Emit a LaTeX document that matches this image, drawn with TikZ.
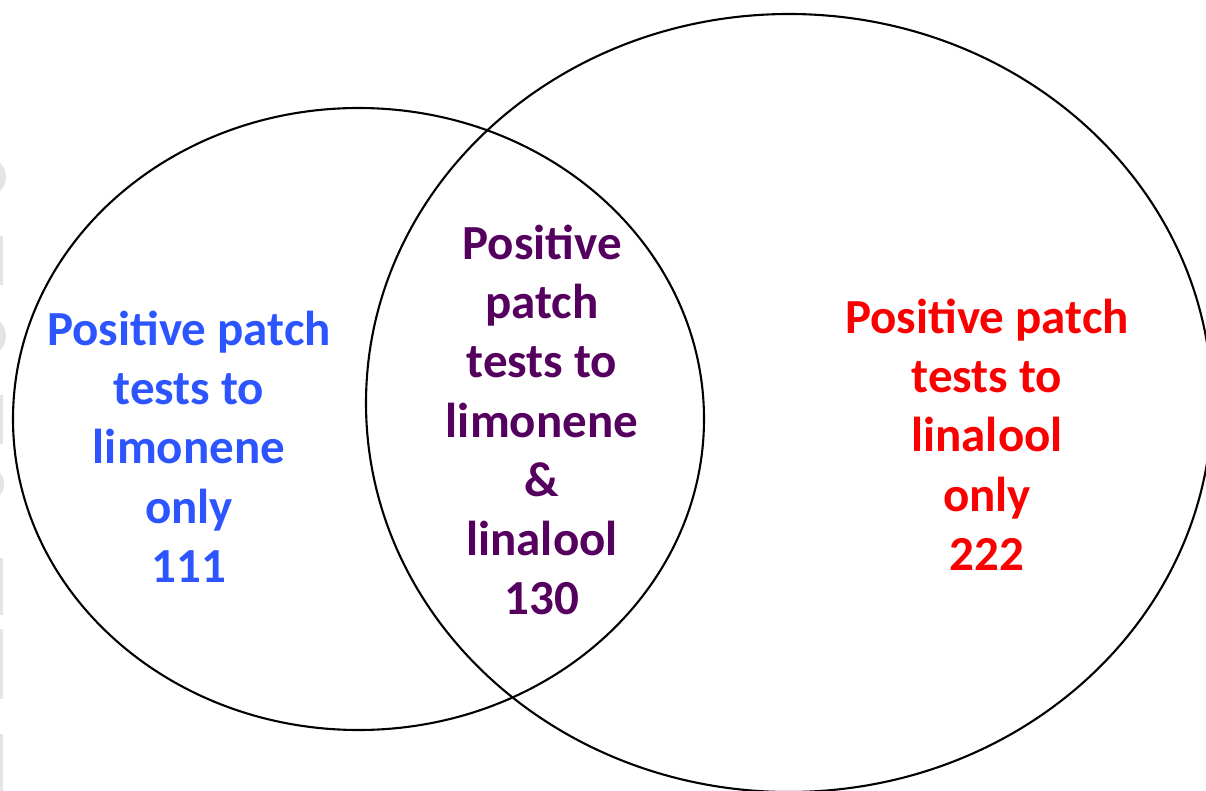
\documentclass[tikz,border=0pt]{standalone}
\usepackage{fontspec}
\setmainfont{Carlito}
\definecolor{limblue}{RGB}{45,85,255}
\definecolor{bothpurple}{RGB}{85,0,95}
\definecolor{linred}{RGB}{250,0,0}
\definecolor{ghost}{RGB}{228,228,228}
\begin{document}
\begin{tikzpicture}[x=1pt,y=-1pt,
  setline/.style={draw=black,line width=2.1pt},
  vlabel/.style={align=center,font=\bfseries\fontsize{49}{59.3}\selectfont,inner sep=0pt},
  ghostmark/.style={fill=ghost,draw=none}]
\useasboundingbox (0,0) rectangle (1206,791);
\fill[white] (0,0) rectangle (1206,791);
% faint remnants on the left edge
\begin{scope}
\clip (0,0) rectangle (1206,791);
\fill[ghostmark] (-14,177) circle (20);
\fill[ghostmark] (0,236) rectangle (3,285);
\fill[ghostmark] (-14,336) circle (20);
\fill[ghostmark] (0,395) rectangle (3,444);
\fill[ghostmark] (-14,484) circle (18);
\fill[ghostmark] (0,558) rectangle (3,615);
\fill[ghostmark] (0,629) rectangle (3,699);
\fill[ghostmark] (0,734) rectangle (3,791);
% sets
\draw[setline] (358.5,419) ellipse [x radius=345.5, y radius=311];
\draw[setline] (789,403) ellipse [x radius=423, y radius=389];
\end{scope}
\node[vlabel,text=limblue] (lim) at (189,446.5) {Positive patch\\tests to\\limonene\\only\\111};
\node[vlabel,text=bothpurple] (both) at (542,420) {Positive\\patch\\tests to\\limonene\\\&\\linalool\\130};
\node[vlabel,text=linred] (lin) at (987,434.5) {Positive patch\\tests to\\linalool\\only\\222};
\end{tikzpicture}
\end{document}
